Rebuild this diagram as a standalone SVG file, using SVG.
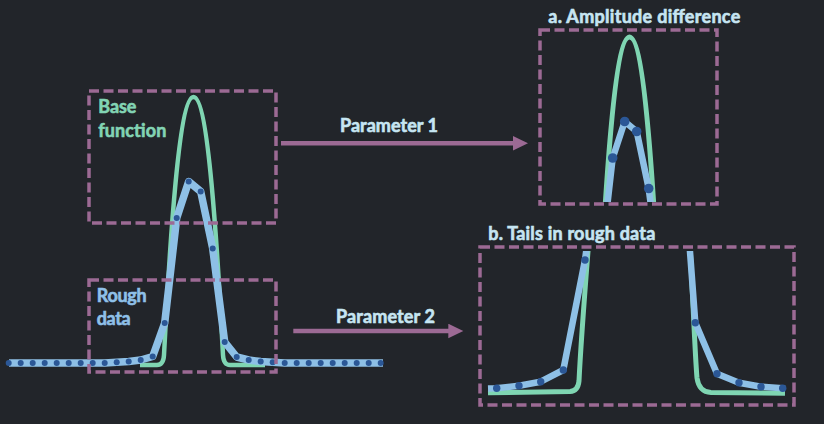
<svg xmlns="http://www.w3.org/2000/svg" width="824" height="424" viewBox="0 0 824 424">
<style>
.box{fill:none;stroke:#9c6a94;stroke-width:3.5;stroke-dasharray:10 4.5}
.green{fill:none;stroke:#7fd5b2;stroke-width:4.5;stroke-linejoin:round}
.blue{fill:none;stroke:#8ec0e6;stroke-width:7.5;stroke-linejoin:round}
.dot{fill:#2b5796}
.conn{stroke:#9c6a94;stroke-width:4.5;fill:none}
.t{font-family:Lato,"Open Sans","Liberation Sans",sans-serif;font-weight:700;font-size:18px;stroke-width:0.6;paint-order:stroke}
.lt{fill:#c6e5f2;stroke:#c6e5f2}
.gt{fill:#82d4b4;stroke:#82d4b4}
.bt{fill:#8fc0e8;stroke:#8fc0e8}
</style>
<defs>
<marker id="ah" markerUnits="userSpaceOnUse" markerWidth="16" markerHeight="16" refX="5" refY="7.3" orient="auto">
<path d="M0,0 L15,7.3 L0,14.6 z" fill="#9c6a94"/>
</marker>
<clipPath id="clipA"><rect x="541" y="31" width="175" height="171"/></clipPath>
<clipPath id="clipB"><rect x="481" y="251" width="312" height="153"/></clipPath>
</defs>
<rect width="824" height="424" fill="#22252a"/>

<g id="main-plot">
<path class="green" d="M140 365 L157 365 Q163.5 365 164 355 C170 240 179 97 193.5 97 C208 97 217 240 223 355 Q223.5 365 230 365 L265 365"/>
<path class="blue" d="M9 363 L104.7 363 L116.7 362.3 L128.7 361.5 L140.7 360 L152.7 356.5 L164.7 323 L176.7 218 L188.7 181.5 L200.7 191.5 L212.7 248.5 L224.7 342 L236.7 357 L248.7 360 L260.7 361.5 L272.7 362.3 L284.7 363 L383 363"/>
<g class="dot">
<circle cx="8.7" cy="363" r="3"/><circle cx="20.7" cy="363" r="3"/><circle cx="32.7" cy="363" r="3"/><circle cx="44.7" cy="363" r="3"/><circle cx="56.7" cy="363" r="3"/><circle cx="68.7" cy="363" r="3"/><circle cx="80.7" cy="363" r="3"/><circle cx="92.7" cy="363" r="3"/><circle cx="104.7" cy="363" r="3"/><circle cx="116.7" cy="362.3" r="3"/><circle cx="128.7" cy="361.5" r="3"/><circle cx="140.7" cy="360" r="3"/><circle cx="152.7" cy="356.5" r="3"/><circle cx="164.7" cy="323" r="3"/><circle cx="176.7" cy="218" r="3"/><circle cx="188.7" cy="181.5" r="3"/><circle cx="200.7" cy="191.5" r="3"/><circle cx="212.7" cy="248.5" r="3"/><circle cx="224.7" cy="342" r="3"/><circle cx="236.7" cy="357" r="3"/><circle cx="248.7" cy="360" r="3"/><circle cx="260.7" cy="361.5" r="3"/><circle cx="272.7" cy="362.3" r="3"/><circle cx="284.7" cy="363" r="3"/><circle cx="296.7" cy="363" r="3"/><circle cx="308.7" cy="363" r="3"/><circle cx="320.7" cy="363" r="3"/><circle cx="332.7" cy="363" r="3"/><circle cx="344.7" cy="363" r="3"/><circle cx="356.7" cy="363" r="3"/><circle cx="368.7" cy="363" r="3"/><circle cx="380.7" cy="363" r="3"/>
</g>
</g>

<g id="base-function">
<rect class="box" x="89" y="91" width="187" height="132"/>
<text class="t gt" x="98.3" y="113.3" textLength="38">Base</text>
<text class="t gt" x="98.3" y="136.7" textLength="68">function</text>
</g>

<g id="rough-data">
<rect class="box" x="89" y="280" width="187" height="92"/>
<text class="t bt" x="96.7" y="301.7" textLength="50">Rough</text>
<text class="t bt" x="96.7" y="325" textLength="34">data</text>
</g>

<g id="amplitude-difference">
<g clip-path="url(#clipA)">
<path class="green" style="stroke-width:5" transform="translate(436,-60)" d="M140 365 L157 365 Q163.5 365 164 355 C170 240 179 97 193.5 97 C208 97 217 240 223 355 Q223.5 365 230 365 L265 365"/>
<path class="blue" style="stroke-width:6.5" d="M600.7 263 L612.7 158 L624.7 121.5 L636.7 131.5 L648.7 188.5 L660.7 282"/>
<g class="dot">
<circle cx="612.7" cy="158" r="4.8"/><circle cx="624.7" cy="121.5" r="4.8"/><circle cx="636.7" cy="131.5" r="4.8"/><circle cx="648.7" cy="188.5" r="4.8"/>
</g>
</g>
<rect class="box" x="540" y="30" width="177" height="174"/>
<text class="t lt" x="548.3" y="22.7" textLength="192">a. Amplitude difference</text>
</g>

<g id="tails-rough-data">
<g clip-path="url(#clipB)">
<path class="green" style="stroke-width:5" d="M488 392.7 L570 391.5 Q578 391 579 381 C581 340 585 290 588.5 245"/>
<path class="green" style="stroke-width:5" d="M690 245 C693 300 695 355 697 378 Q699 392 711 392.5 L785 393.2"/>
<path class="blue" style="stroke-width:6.5" d="M488 388.6 L496.7 388.3 L519 385.7 L540.7 381.7 L563.3 370 L585 260 L587 245"/>
<path class="blue" style="stroke-width:6.5" d="M689.5 245 L695.3 322.7 L717 373.7 L739 382.7 L761 386.7 L782.7 388.3 L785 388.5"/>
<g class="dot">
<circle cx="496.7" cy="388.3" r="3.7"/><circle cx="519" cy="385.7" r="3.7"/><circle cx="540.7" cy="381.7" r="3.7"/><circle cx="563.3" cy="370" r="3.7"/><circle cx="585" cy="260" r="3.7"/>
<circle cx="695.3" cy="322.7" r="3.7"/><circle cx="717" cy="373.7" r="3.7"/><circle cx="739" cy="382.7" r="3.7"/><circle cx="761" cy="386.7" r="3.7"/><circle cx="782.7" cy="388.3" r="3.7"/>
</g>
</g>
<rect class="box" x="480" y="247" width="314" height="158"/>
<text class="t lt" x="488.3" y="240" textLength="167">b. Tails in rough data</text>
</g>

<g id="connectors">
<line class="conn" x1="281" y1="143.3" x2="518" y2="143.3" marker-end="url(#ah)"/>
<line class="conn" x1="293.3" y1="331" x2="453.3" y2="331" marker-end="url(#ah)"/>
<text class="t lt" x="340" y="131.7" textLength="98">Parameter 1</text>
<text class="t lt" x="336" y="322.7" textLength="99">Parameter 2</text>
</g>
</svg>
